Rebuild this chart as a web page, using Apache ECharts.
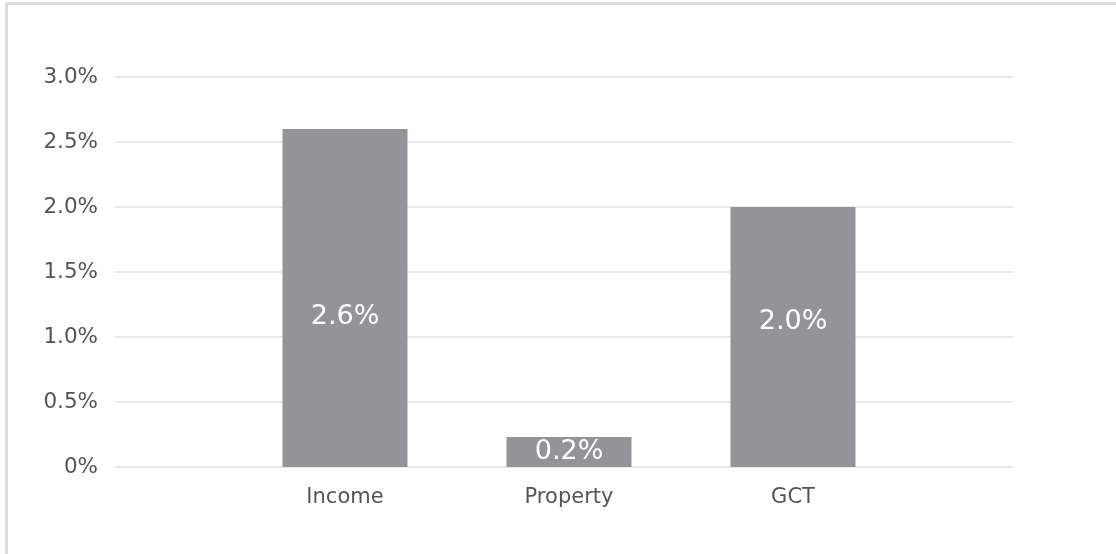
<!DOCTYPE html>
<html>
<head>
<meta charset="utf-8">
<title>Tax revenue by type</title>
<script src="https://cdn.jsdelivr.net/npm/echarts@6/dist/echarts.min.js"></script>
<style>
  html, body { margin: 0; padding: 0; background: #ffffff; }
  #chart { width: 1116px; height: 554px; }
</style>
</head>
<body>
<div id="chart"></div>
<script>
// Tax categories and their values (% of GDP)
const categories = ['Income', 'Property', 'GCT'];
const values = [2.6, 0.23, 2.0];
// Vertical nudges for the in-bar value labels
const labelOffsets = [[0, 19], [0, 0], [0, -15]];
// Value axis range
const yMin = 0;
const yMax = 3.0;
const yStep = 0.5;

const FONT = '"DejaVu Sans", sans-serif';
const TEXT = '#555557';
const BAR = '#949397';
const GRID_LINE = '#e2e2e2';

const chart = echarts.init(document.getElementById('chart'), null, { renderer: 'canvas' });

const pct = v => (v === 0 ? '0%' : v.toFixed(1) + '%');

chart.setOption({
  animation: false,
  backgroundColor: '#ffffff',
  graphic: [{
    type: 'rect',
    shape: { x: 6.5, y: 3.5, width: 1300, height: 800 },
    style: { fill: 'none', stroke: '#dddddd', lineWidth: 3 },
    silent: true
  }],
  grid: [
    // wide grid carrying the value axis labels and gridlines
    { left: 115, right: 103, top: 77, bottom: 87, containLabel: false },
    // narrower grid holding the bars
    { left: 233, right: 211, top: 77, bottom: 87, containLabel: false }
  ],
  xAxis: [
    { gridIndex: 0, type: 'category', data: categories, show: false },
    {
      gridIndex: 1,
      type: 'category',
      data: categories,
      axisLine: { show: false },
      axisTick: { show: false },
      axisLabel: {
        margin: 20,
        color: TEXT,
        fontFamily: FONT,
        fontSize: 21
      }
    }
  ],
  yAxis: [
    {
      gridIndex: 0,
      type: 'value',
      min: yMin,
      max: yMax,
      interval: yStep,
      axisLine: { show: false },
      axisTick: { show: false },
      axisLabel: {
        margin: 17,
        color: TEXT,
        fontFamily: FONT,
        fontSize: 21.5,
        formatter: pct
      },
      splitLine: { lineStyle: { color: GRID_LINE, width: 1.5 } }
    },
    {
      gridIndex: 1,
      type: 'value',
      min: yMin,
      max: yMax,
      interval: yStep,
      show: false,
      splitLine: { show: false }
    }
  ],
  series: [{
    type: 'bar',
    xAxisIndex: 1,
    yAxisIndex: 1,
    barWidth: 125,
    itemStyle: { color: BAR },
    data: values.map((v, i) => ({
      value: v,
      label: { offset: labelOffsets[i] }
    })),
    label: {
      show: true,
      position: 'inside',
      color: '#ffffff',
      fontFamily: FONT,
      fontSize: 27,
      formatter: p => p.value.toFixed(1) + '%'
    }
  }]
});
</script>
</body>
</html>
